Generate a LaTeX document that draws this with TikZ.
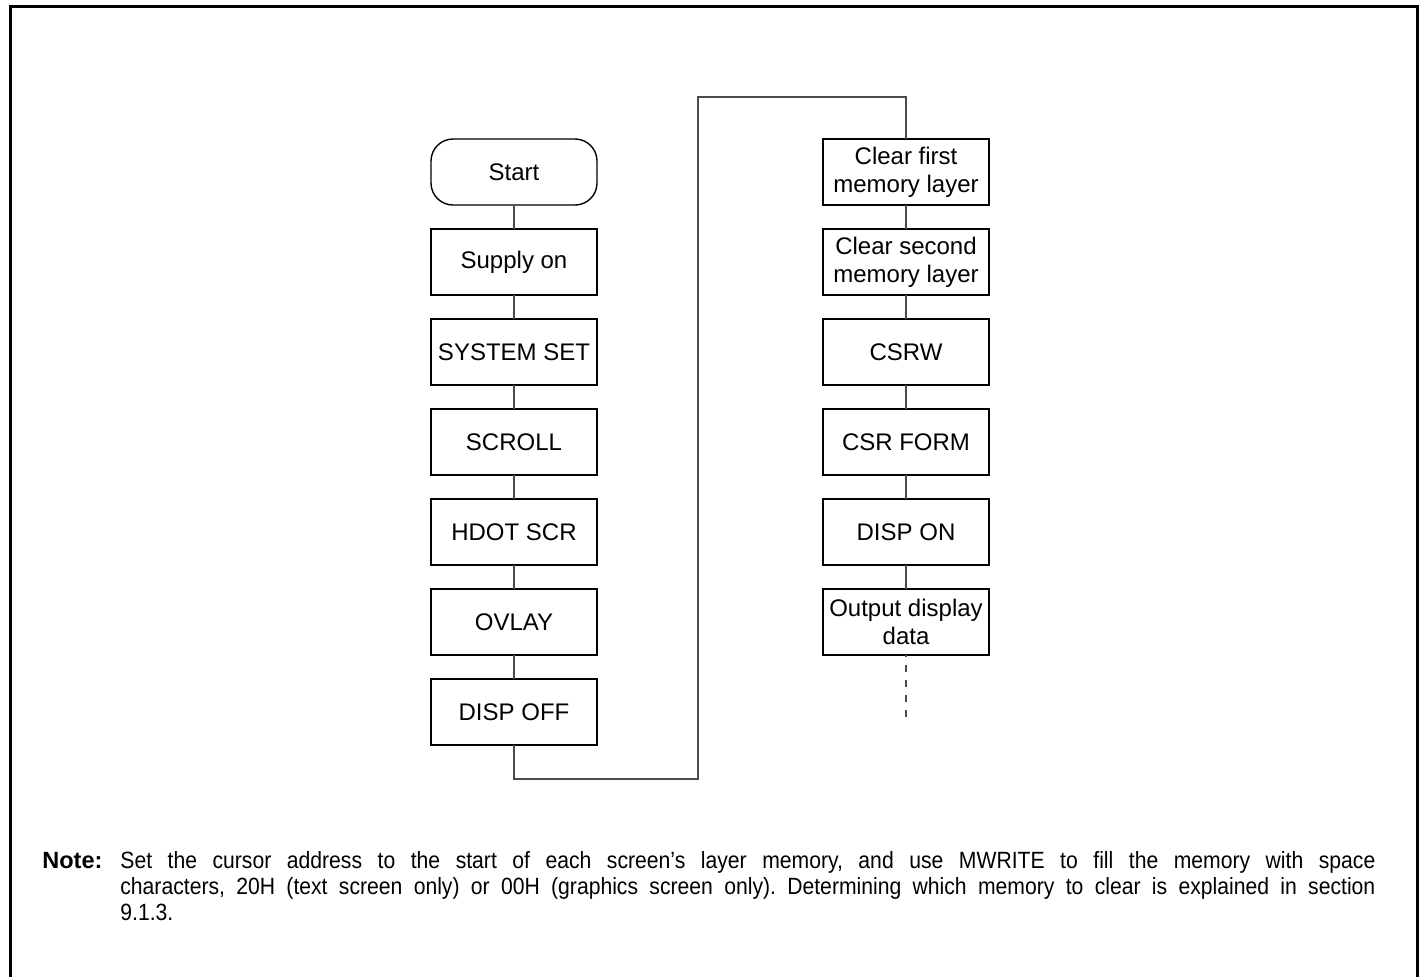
\documentclass[tikz,border=0pt]{standalone}
\usepackage{fontspec}
\setmainfont{Liberation Sans}
\newfontfamily\notefont[FakeStretch=0.9]{Liberation Sans}
\usetikzlibrary{positioning}

\begin{document}
\begin{tikzpicture}[
      font=\fontsize{12}{14}\selectfont,
      box/.style={draw, line width=0.7pt, align=center, inner sep=2pt, outer sep=0pt,
                  minimum width=83pt, minimum height=33pt},
      term/.style={box, rounded corners=11pt},
      ln/.style={line width=0.6pt, black!70},
      more/.style={ln, dash pattern=on 3.5pt off 4pt, dash phase=-5pt},
      node distance=12pt]
    \useasboundingbox (0,0) rectangle (711.5pt,-488pt);
    \draw[line width=1.5pt] (5.25pt,-3.25pt) rectangle (708.75pt,-500pt);
    % left column
    \node[term] (start) at (257pt,-86pt) {Start};
    \node[box, below=of start] (sup) {Supply on};
    \node[box, below=of sup] (sys) {SYSTEM SET};
    \node[box, below=of sys] (scr) {SCROLL};
    \node[box, below=of scr] (hdot) {HDOT SCR};
    \node[box, below=of hdot] (ovl) {OVLAY};
    \node[box, below=of ovl] (doff) {DISP OFF};
    % right column
    \node[box, right=113pt of start] (clr1) {Clear first\\memory layer};
    \node[box, below=of clr1] (clr2) {Clear second\\memory layer};
    \node[box, below=of clr2] (csrw) {CSRW};
    \node[box, below=of csrw] (csrf) {CSR FORM};
    \node[box, below=of csrf] (don) {DISP ON};
    \node[box, below=of don] (out) {Output display\\data};
    \coordinate[below=33.5pt of out] (cont);
    \coordinate (lo) at (349pt,-389.5pt);
    \coordinate (hi) at (349pt,-48.5pt);
    \draw[ln] (start) -- (sup); \draw[ln] (sup) -- (sys); \draw[ln] (sys) -- (scr);
    \draw[ln] (scr) -- (hdot); \draw[ln] (hdot) -- (ovl); \draw[ln] (ovl) -- (doff);
    \draw[ln] (doff) |- (lo) -- (hi) -| (clr1);
    \draw[ln] (clr1) -- (clr2); \draw[ln] (clr2) -- (csrw); \draw[ln] (csrw) -- (csrf);
    \draw[ln] (csrf) -- (don); \draw[ln] (don) -- (out);
    \draw[more] (out) -- (cont);
    % note
    \node[anchor=base west, inner sep=0pt, font=\fontsize{11.75}{13}\selectfont]
      (notehd) at (21pt,-434pt) {\bfseries Note:};
    \node[anchor=north west, inner sep=0pt, text width=627.5pt, align=justify,
          font=\notefont\fontsize{11.75}{13}\selectfont\frenchspacing]
      (note) at (60pt,-425.4pt)
      {Set the cursor address to the start of each screen’s layer memory, and use MWRITE to fill the memory with space\linebreak
       characters, 20H (text screen only) or 00H (graphics screen only). Determining which memory to clear is explained in section\linebreak
       9.1.3.};
  \end{tikzpicture}
\end{document}
